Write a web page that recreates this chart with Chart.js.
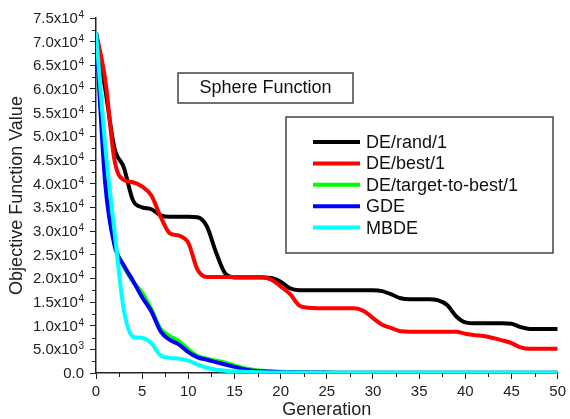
<!DOCTYPE html>
<html>
<head>
<meta charset="utf-8">
<script src="https://cdn.jsdelivr.net/npm/chart.js@4.4.0/dist/chart.umd.min.js"></script>
<style>
html, body { margin: 0; padding: 0; background: #fff; }
</style>
</head>
<body>
<canvas id="ChartCanvas" width="570" height="419"></canvas>
<script>
// generation axis (0..50), one value per generation for every variant
var generations = [0,1,2,3,4,5,6,7,8,9,10,11,12,13,14,15,16,17,18,19,20,21,22,23,24,25,26,27,28,29,30,31,32,33,34,35,36,37,38,39,40,41,42,43,44,45,46,47,48,49,50];

var deRand1 = [72000,60000,47500,43500,36500,35000,34600,33300,33000,33000,33000,32900,31000,25500,21000,20200,20200,20200,20200,20100,19300,17900,17500,17500,17500,17500,17500,17500,17500,17500,17500,17300,16600,15800,15600,15600,15600,15400,14400,12000,10700,10500,10500,10500,10500,10400,9700,9300,9300,9300,9300];
var deBest1 = [72000,62000,45000,40800,40300,39400,37500,33000,29500,29000,27500,21800,20300,20300,20300,20300,20300,20300,20300,19700,18300,16700,14300,13800,13700,13700,13700,13700,13700,13100,11600,10200,9500,8800,8700,8700,8700,8700,8700,8700,8300,8000,7800,7400,6900,6300,5400,5100,5100,5100,5100];
var deTargetToBest1 = [72000,42500,27500,22500,19300,17000,13500,9300,7800,6700,5000,3600,3000,2600,2200,1600,1000,700,500,350,250,200,150,120,100,90,70,60,60,60,60,60,60,60,60,60,60,60,60,60,60,60,60,60,60,60,60,60,60,60,60];
var gde = [72000,40000,27000,22800,19500,16000,13000,8800,7000,6000,4400,3300,2800,2300,1800,1300,800,500,350,250,200,150,120,100,90,80,60,50,50,50,50,50,50,50,50,50,50,50,50,50,50,50,50,50,50,50,50,50,50,50,50];
var mbde = [72000,48000,30000,13500,7700,7400,6300,3700,3200,3000,2600,1800,1100,700,500,350,250,200,150,120,100,80,70,60,60,60,60,60,60,60,60,60,60,60,60,60,60,60,60,60,60,60,60,60,60,60,60,60,60,60,60];

var seriesNames = ["DE/rand/1", "DE/best/1", "DE/target-to-best/1", "GDE", "MBDE"];
var seriesColors = ['#000000', '#ff0000', '#00ff00', '#0000ff', '#00ffff'];
var chartTitle = "Sphere Function";
var xTitle = "Generation";
var yTitle = "Objective Function Value";
var yMajorTicks = [0,5000,10000,15000,20000,25000,30000,35000,40000,45000,50000,55000,60000,65000,70000,75000];

var FONT = "Arial, 'Liberation Sans', sans-serif";

function points(values)
{
    return generations.map(function(g, i) { return {x: g, y: values[i]}; });
}

// mantissa and exponent of a y tick label, e.g. 7.5 x 10^4
function yLabel(v)
{
    if (v === 0) return {base: '0.0', exp: ''};
    if (v < 10000) return {base: (v / 1000).toFixed(1) + 'x10', exp: '3'};
    return {base: (v / 10000).toFixed(1) + 'x10', exp: '4'};
}

var allSeries = [deRand1, deBest1, deTargetToBest1, gde, mbde];
var drawOrder = [5, 4, 3, 2, 1]; // cyan on top, black at the bottom

var datasets = allSeries.map(function(vals, i)
{
    return {
        label: seriesNames[i],
        data: points(vals),
        borderColor: seriesColors[i],
        backgroundColor: seriesColors[i],
        borderWidth: 4,
        pointRadius: 0,
        cubicInterpolationMode: 'monotone',
        fill: false,
        order: drawOrder[i]
    };
});

//y labels with superscripts, short minor ticks, title box, framed legend
var extras =
{
    id: 'extras',
    afterDraw: function(chart)
    {
        var ctx = chart.ctx;
        var xs = chart.scales.x, ys = chart.scales.y;
        ctx.save();
        ctx.strokeStyle = '#222';
        ctx.lineWidth = 1;
        ctx.beginPath();
        for (var v = 2500; v < 75000; v += 5000)
        {
            var py = Math.round(ys.getPixelForValue(v)) + 0.5;
            ctx.moveTo(xs.left - 4, py);
            ctx.lineTo(xs.left, py);
        }
        for (var g = 2.5; g < 50; g += 5)
        {
            var px = Math.round(xs.getPixelForValue(g)) + 0.5;
            ctx.moveTo(px, ys.bottom);
            ctx.lineTo(px, ys.bottom + 4);
        }
        ctx.stroke();

        // y tick labels
        ctx.fillStyle = '#222';
        ctx.textAlign = 'right';
        yMajorTicks.forEach(function(t)
        {
            var lab = yLabel(t);
            var ty = ys.getPixelForValue(t);
            var right = 84;
            ctx.textBaseline = 'alphabetic';
            if (lab.exp)
            {
                ctx.font = '10px ' + FONT;
                ctx.fillText(lab.exp, right, ty);
                right -= ctx.measureText(lab.exp).width + 0.5;
            }
            ctx.font = '15px ' + FONT;
            ctx.textBaseline = 'middle';
            ctx.fillText(lab.base, right, ty + 1);
        });

        // title box
        ctx.fillStyle = '#fff';
        ctx.fillRect(178, 73, 175, 30);
        ctx.strokeStyle = '#444';
        ctx.lineWidth = 1.5;
        ctx.strokeRect(178, 73, 175, 30);
        ctx.fillStyle = '#111';
        ctx.font = '18px ' + FONT;
        ctx.textAlign = 'center';
        ctx.textBaseline = 'middle';
        ctx.fillText(chartTitle, 265.5, 88.5);

        // legend box
        ctx.fillStyle = '#fff';
        ctx.fillRect(286, 117, 267, 136);
        ctx.strokeRect(286, 117, 267, 136);
        ctx.textAlign = 'left';
        chart.data.datasets.forEach(function(ds, i)
        {
            var ly = 142 + i * 21.4;
            ctx.strokeStyle = ds.borderColor;
            ctx.lineWidth = 4;
            ctx.beginPath();
            ctx.moveTo(313, ly);
            ctx.lineTo(360, ly);
            ctx.stroke();
            ctx.fillStyle = '#111';
            ctx.fillText(ds.label, 366, ly + 1);
        });
        ctx.restore();
    }
};

var config =
{
    type: 'line',
    data: { datasets: datasets },
    options:
    {
        responsive: false,
        animation: false,
        layout: { padding: { top: 18, right: 9, left: 0, bottom: 0 } },
        plugins: { legend: { display: false }, tooltip: { enabled: false } },
        scales:
        {
            x:
            {
                type: 'linear',
                min: 0,
                max: 50,
                afterFit: function(s) { s.height = 46; },
                border: { display: true, color: '#222', width: 1.5 },
                grid:
                {
                    drawOnChartArea: false,
                    tickLength: 6,
                    tickColor: function(c) { return (c.tick && c.tick.value % 5 === 0) ? '#222' : 'rgba(0,0,0,0)'; }
                },
                ticks:
                {
                    stepSize: 2.5,
                    autoSkip: false,
                    maxRotation: 0,
                    padding: 4,
                    color: '#222',
                    font: { family: FONT, size: 15 },
                    callback: function(v) { return v % 5 === 0 ? String(v) : ''; }
                },
                title:
                {
                    display: true,
                    text: xTitle,
                    color: '#222',
                    font: { family: FONT, size: 18, lineHeight: 1 },
                    padding: { top: 0, bottom: 0 }
                }
            },
            y:
            {
                type: 'linear',
                min: 0,
                max: 75000,
                afterFit: function(s) { s.width = 96; },
                border: { display: true, color: '#222', width: 1.5 },
                grid:
                {
                    drawOnChartArea: false,
                    tickLength: 6,
                    tickColor: function(c) { return (c.tick && c.tick.value % 5000 === 0) ? '#222' : 'rgba(0,0,0,0)'; }
                },
                ticks:
                {
                    stepSize: 2500,
                    autoSkip: false,
                    padding: 7,
                    callback: function() { return ''; } // drawn by the extras plugin
                },
                title:
                {
                    display: true,
                    text: yTitle,
                    color: '#222',
                    font: { family: FONT, size: 18, lineHeight: 1 },
                    padding: { top: 8, bottom: 0 }
                }
            }
        }
    },
    plugins: [extras]
};

var createdChart = new Chart(document.getElementById('ChartCanvas').getContext('2d'), config);
</script>
</body>
</html>
